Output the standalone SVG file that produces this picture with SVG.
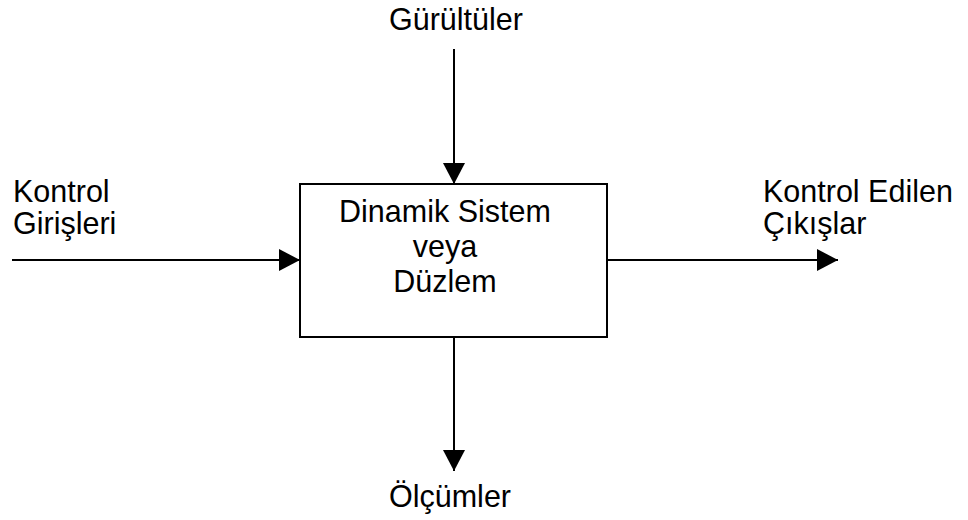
<svg xmlns="http://www.w3.org/2000/svg" width="968" height="520" viewBox="0 0 968 520">
  <style>
    .lbl { font-family: "Liberation Sans", Arial, sans-serif; font-size: 30.5px; fill: #000; }
    .ln { stroke: #000; stroke-width: 2; fill: none; }
    .box { stroke: #000; stroke-width: 2; fill: #fff; }
  </style>
  <defs>
    <marker id="ah" markerUnits="userSpaceOnUse" markerWidth="22" markerHeight="22" refX="21" refY="11" orient="auto">
      <path d="M0,0 L21,11 L0,22 Z" fill="#000"/>
    </marker>
  </defs>

  <!-- connectors -->
  <g id="connectors">
    <line class="ln" x1="454" y1="49" x2="454" y2="184" marker-end="url(#ah)"/>
    <line class="ln" x1="12" y1="260" x2="300" y2="260" marker-end="url(#ah)"/>
    <line class="ln" x1="607" y1="260" x2="838" y2="260" marker-end="url(#ah)"/>
    <line class="ln" x1="454" y1="337" x2="454" y2="471" marker-end="url(#ah)"/>
  </g>

  <!-- central block -->
  <g id="system">
    <rect class="box" x="300" y="184" width="307" height="153"/>
    <text class="lbl" text-anchor="middle" x="445" y="222">Dinamik Sistem</text>
    <text class="lbl" text-anchor="middle" x="445" y="257">veya</text>
    <text class="lbl" text-anchor="middle" x="445" y="292">Düzlem</text>
  </g>

  <g id="noise">
    <text class="lbl" text-anchor="middle" x="456" y="30">Gürültüler</text>
  </g>

  <g id="inputs">
    <text class="lbl" x="13" y="202">Kontrol</text>
    <text class="lbl" x="13" y="234">Girişleri</text>
  </g>

  <g id="outputs">
    <text class="lbl" x="763" y="202">Kontrol Edilen</text>
    <text class="lbl" x="763" y="234">Çıkışlar</text>
  </g>

  <g id="measurements">
    <text class="lbl" text-anchor="middle" x="450" y="507">Ölçümler</text>
  </g>
</svg>
